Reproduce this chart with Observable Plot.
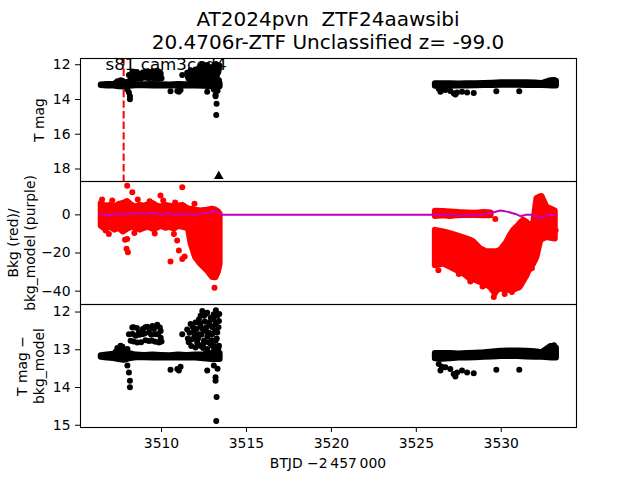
<!DOCTYPE html>
<html><head><meta charset="utf-8">
<script src="https://cdn.jsdelivr.net/npm/d3@7"></script>
<script src="https://cdn.jsdelivr.net/npm/@observablehq/plot@0.6"></script>
<style>
body{margin:0;background:#fff}
#fig{position:relative;width:640px;height:480px;overflow:hidden;background:#fff;font-family:"DejaVu Sans",sans-serif;color:#000}
.tt{position:absolute;left:0;width:656px;text-align:center;white-space:pre;font-size:20px;line-height:23px}
.yl{position:absolute;white-space:pre;text-align:center;font-size:13.9px;line-height:1.2;transform:translate(-50%,-50%) rotate(-90deg)}
.xl{position:absolute;white-space:pre;font-size:13.9px;transform:translate(-50%,-50%)}
</style></head><body><div id="fig"></div>
<script>
// ---------- text ----------
const titleLines = ["AT2024pvn  ZTF24aawsibi", "20.4706r-ZTF Unclassified z= -99.0"];
const sectorLabel = ["s81 cam3ccd4"];
const sectorLabelT = [3506.7];
const yLabel1 = "T mag";
const yLabel2 = "Bkg (red)/\nbkg_model (purple)";
const yLabel3 = "T mag \u2212\nbkg_model";
const xLabel = "BTJD \u22122\u2009457\u2009000";

// ---------- ticks ----------
const xTicks = [3510, 3515, 3520, 3525, 3530];
const y1Ticks = [12, 14, 16, 18];
const y2Ticks = [0, -20, -40];
const y3Ticks = [12, 13, 14, 15];

// ---------- T mag: dense bands (envelopes of the dot cloud) ----------
const band1T  = [3506.45, 3506.8, 3507.2, 3507.5, 3507.8, 3508.1, 3508.5, 3509.0, 3509.5, 3510.0, 3510.5, 3511.0, 3511.5, 3512.0, 3512.5, 3513.0, 3513.45];
const band1Lo = [13.16, 13.14, 13.12, 13.08, 13.05, 13.1, 13.14, 13.15, 13.14, 13.15, 13.16, 13.14, 13.15, 13.14, 13.13, 13.1, 13.1];
const band1Hi = [13.2, 13.22, 13.23, 13.26, 13.28, 13.24, 13.21, 13.21, 13.22, 13.21, 13.22, 13.21, 13.22, 13.22, 13.24, 13.26, 13.26];
const band2T  = [3526.12, 3526.5, 3527.0, 3527.5, 3528.0, 3528.5, 3529.0, 3529.5, 3530.0, 3530.5, 3531.0, 3531.5, 3532.0, 3532.4, 3532.8, 3533.0, 3533.25];
const band2Lo = [13.1, 13.1, 13.1, 13.11, 13.1, 13.09, 13.08, 13.06, 13.04, 13.03, 13.03, 13.04, 13.05, 13.08, 12.95, 12.92, 12.95];
const band2Hi = [13.24, 13.25, 13.24, 13.22, 13.22, 13.21, 13.2, 13.19, 13.18, 13.18, 13.18, 13.19, 13.2, 13.2, 13.21, 13.22, 13.22];

// ---------- T mag: individual points ----------
const ptT = [
  3508.28, 3508.67, 3509.16, 3509.46, 3509.75, 3508.08, 3508.48, 3508.87, 3509.26, 3509.65, 3509.95, 3508.18, 3508.57, 3509.06, 3509.46, 3509.85, 3507.59, 3507.99, 3509.95, 3508.9, 3509.55,
  3508.35, 3508.55, 3509.05, 3509.3, 3509.6, 3509.9, 3508.3, 3508.7, 3509.0, 3509.4, 3509.8, 3508.35, 3508.8, 3509.25, 3509.65, 3510.0, 3507.4, 3507.7, 3507.5, 3507.3,
  3512.40, 3512.69, 3513.08, 3513.28, 3512.5, 3511.71, 3512.0, 3512.3, 3512.79, 3513.18, 3513.38, 3511.51, 3511.9, 3512.2, 3512.59, 3512.98, 3513.28, 3511.22, 3511.81, 3512.1, 3512.5, 3512.89, 3513.18, 3513.38, 3512.0, 3512.69, 3513.08, 3513.3, 3512.2, 3512.9, 3513.0, 3512.4, 3512.7, 3513.1, 3512.3, 3511.6,
  3511.55, 3511.65, 3511.75, 3511.85, 3511.95, 3512.05, 3512.15, 3512.25, 3512.35, 3512.45, 3512.55, 3512.65, 3512.75, 3512.85, 3512.95, 3513.05, 3513.15, 3513.25, 3513.35, 3513.4, 3512.6, 3512.3, 3513.2, 3512.8, 3512.45, 3513.35, 3513.0,
  3507.99, 3508.08, 3508.14, 3508.14, 3510.53, 3510.93, 3511.12, 3511.02, 3512.69, 3513.08, 3513.18, 3513.18, 3513.24, 3513.22, 3513.3,
  3526.32, 3526.42, 3526.71, 3527.0, 3527.2, 3527.4, 3527.69, 3527.99, 3528.38, 3527.3, 3526.5, 3529.71, 3531.06, 3532.9, 3533.1
];
const ptM = [
  12.41, 12.54, 12.39, 12.37, 12.34, 12.59, 12.63, 12.59, 12.54, 12.59, 12.68, 12.76, 12.81, 12.75, 12.76, 12.81, 12.89, 12.98, 12.5, 12.45, 12.45,
  12.40, 12.42, 12.40, 12.43, 12.39, 12.41, 12.58, 12.6, 12.57, 12.6, 12.58, 12.78, 12.8, 12.77, 12.79, 12.78, 12.95, 12.92, 13.0, 13.05,
  11.97, 12.02, 12.06, 12.1, 12.1, 12.32, 12.28, 12.37, 12.28, 12.32, 12.24, 12.46, 12.54, 12.59, 12.5, 12.59, 12.54, 12.59, 12.72, 12.81, 12.76, 12.85, 12.76, 12.89, 12.94, 12.98, 13.03, 13.0, 12.2, 12.15, 12.4, 12.45, 12.65, 12.9, 12.9, 12.8,
  12.7, 12.55, 12.9, 12.4, 12.65, 12.45, 12.7, 12.3, 12.6, 12.85, 12.25, 12.4, 12.8, 12.35, 12.75, 12.2, 12.5, 12.7, 12.4, 12.05, 12.05, 12.1, 11.95, 12.55, 12.95, 12.95, 12.9,
  13.42, 13.6, 13.82, 13.99, 13.53, 13.51, 13.45, 13.55, 13.55, 13.42, 13.73, 13.82, 14.25, 14.89, 13.5,
  13.38, 13.55, 13.46, 13.51, 13.64, 13.6, 13.55, 13.6, 13.62, 13.71, 13.45, 13.53, 13.53, 12.9, 12.88
];
const limitT = [3513.37];
const limitM = [18.42];
const refT = [3507.77];

// ---------- Background (red): envelopes and points ----------
const redAT  = [3506.45, 3506.7, 3507.0, 3507.25, 3507.5, 3507.75, 3508.0, 3508.25, 3508.5, 3508.75, 3509.0, 3509.25, 3509.5, 3509.75, 3510.0, 3510.25, 3510.5, 3510.75, 3511.0, 3511.25, 3511.5, 3511.6, 3511.75, 3512.0, 3512.3, 3512.7, 3513.0, 3513.2, 3513.35, 3513.45];
const redAHi = [6, 4.5, 5, 4, 5.5, 6, 7, 5, 4, 5, 4.5, 5.5, 6, 4.5, 4, 5, 4.5, 4, 4.5, 5, 3.5, 3, 3, 2.5, 2, 2.5, 3, 2.5, 1.5, 0.5];
const redALo = [-6, -7.5, -6.5, -8, -7, -9, -7.5, -6.5, -7, -8, -7, -6.5, -7.5, -7, -6, -7, -6.5, -7.5, -6, -6.5, -7, -8, -15.5, -22.3, -25.8, -29.3, -32.8, -33, -30, -25.8];
const redBT  = [3526.12, 3526.61, 3527.01, 3527.79, 3528.18, 3528.38, 3528.77, 3529.16, 3529.36, 3529.65, 3529.75, 3529.95, 3530.05, 3530.34, 3530.54, 3530.73, 3531.03, 3531.12, 3531.32, 3531.52, 3531.61, 3531.91, 3532.1, 3532.3, 3532.4, 3532.69, 3533.18];
const redBHi = [-8.1, -9, -9.8, -12.1, -13.2, -14.2, -17.7, -19.4, -19.4, -19.4, -19.4, -18.5, -17.7, -14.2, -10.7, -8.1, -5.5, -4.5, -2.8, -4, -5.5, -4.6, 8.5, 9.5, 9.6, 4, 2];
const redBLo = [-26.7, -25.8, -27.5, -31, -33.7, -34, -35.4, -37, -38, -41.5, -40, -38.9, -39, -39.5, -39.7, -39.5, -38.5, -38, -35, -31.9, -30, -25.8, -22.3, -14.5, -13, -11.9, -12.7];
const redCT  = [3526.12, 3526.6, 3527.0, 3527.5, 3528.0, 3528.5, 3529.0, 3529.4];
const redCHi = [1.9, 1.8, 1.5, 1.2, 1.0, 0.8, 1.2, 1.0];
const redCLo = [-0.9, -0.5, -0.8, -0.4, -0.2, -0.3, -0.5, -0.4];
const redPtT = [3507.98, 3508.28, 3509.94, 3511.22, 3511.94, 3507.98, 3507.94, 3508.02, 3510.73, 3510.92, 3511.02, 3510.53, 3511.22, 3511.36, 3513.12, 3506.71, 3507.85, 3529.65, 3528.18, 3529.56, 3530.63,
  3506.5, 3507.1, 3508.6, 3509.3, 3510.1, 3510.8, 3506.9, 3508.4, 3509.6, 3526.15, 3526.3, 3527.5, 3528.9, 3530.2, 3531.8, 3533.2];
const redPtV = [15.3, 11.9, 10.1, 14.5, 5.8, -12.6, -17.8, -19.6, -10, -13.5, -18.7, -24.4, -23.1, -21.8, -38.2, -8.2, -13.1, -2.1, -34.9, -43.1, -40.5,
  8, 7.5, 8, 7.2, 7.5, 6.5, -10, -9.5, -9.8, -20, -29, -31, -37.5, -41.5, -28, -8];

// ---------- bkg_model (purple) ----------
const modelT = [3506.45, 3506.9, 3507.4, 3507.9, 3508.4, 3508.9, 3509.4, 3509.9, 3510.4, 3510.9, 3511.4, 3511.9, 3512.4, 3512.9, 3513.15, 3513.35, 3513.5, 3526.12, 3527.0, 3527.79, 3528.77, 3529.56, 3529.95, 3530.34, 3530.83, 3531.12, 3531.42, 3531.81, 3532.1, 3532.3, 3532.59, 3533.18];
const modelV = [0.5, -0.3, 0.6, 0.2, 1.0, 0.4, 1.1, 0.2, 0.8, -0.2, 0.7, 0.1, 0.9, 1.2, 2.4, 1.0, 0, 0, 0, -0.4, 0, 1.4, 2.3, 1.7, 0.5, -0.7, 0, 0, -1.2, -1.8, -0.4, 0];

// ---------- layout ----------
const fig = document.getElementById("fig");
const xDomain = [3505.23, 3534.43];
const fmt = d => (d < 0 ? "\u2212" + Math.abs(d) : String(d));
const RED = "#ff0000", PURPLE = "#bf00bf";

function band(T, Lo, Hi, color) {
  return Plot.areaY(T, {x: T, y1: Lo, y2: Hi, fill: color, stroke: color, strokeWidth: 6, strokeLinejoin: "round", curve: "linear"});
}
function panel(top, height, mt, mb, yOpts, marks, showX) {
  const svg = Plot.plot({
    width: 640, height, marginLeft: 80, marginRight: 64, marginTop: mt, marginBottom: mb,
    style: {background: "transparent", overflow: "visible", fontFamily: "DejaVu Sans", fontSize: "13.9px", color: "black"},
    x: showX ? {domain: xDomain, ticks: xTicks, tickSize: 5, tickPadding: 6, tickFormat: d => String(d), label: null}
             : {domain: xDomain, axis: null},
    y: Object.assign({tickSize: 5, tickPadding: 5, tickFormat: fmt, label: null}, yOpts),
    marks: [...marks, Plot.frame({stroke: "black", strokeWidth: 1.1})]
  });
  svg.style.position = "absolute";
  svg.style.left = "0px";
  svg.style.top = top + "px";
  fig.appendChild(svg);
}

// Panel 1: T mag
panel(48, 143, 10, 10, {domain: [18.72, 11.64], ticks: y1Ticks}, [
  Plot.ruleX(refT, {x: d => d, stroke: RED, strokeWidth: 2, strokeDasharray: "7.4,3.2"}),
  band(band1T, band1Lo, band1Hi, "black"),
  band(band2T, band2Lo, band2Hi, "black"),
  Plot.dot(ptT, {x: ptT, y: ptM, r: 3, fill: "black"}),
  Plot.dot(limitT, {x: limitT, y: limitM, r: 3.6, symbol: "triangle", fill: "black"}),
  Plot.text(sectorLabel, {x: sectorLabelT, text: d => d, frameAnchor: "top", lineAnchor: "top", textAnchor: "start", fontSize: 16.7, fill: "black"})
]);

// Panel 2: background
panel(171, 143, 10, 10, {domain: [-47, 17.5], ticks: y2Ticks}, [
  band(redAT, redALo, redAHi, RED),
  band(redBT, redBLo, redBHi, RED),
  band(redCT, redCLo, redCHi, RED),
  Plot.dot(redPtT, {x: redPtT, y: redPtV, r: 3, fill: RED}),
  Plot.line(modelT, {x: modelT, y: modelV, stroke: PURPLE, strokeWidth: 2})
]);

// Panel 3: T mag - bkg_model
panel(294, 183, 10, 50, {domain: [15.06, 11.8], ticks: y3Ticks}, [
  band(band1T, band1Lo, band1Hi, "black"),
  band(band2T, band2Lo, band2Hi, "black"),
  Plot.dot(ptT, {x: ptT, y: ptM, r: 3, fill: "black"})
], true);

// titles and labels
function addDiv(cls, text, css) {
  const d = document.createElement("div");
  d.className = cls; d.textContent = text;
  Object.assign(d.style, css);
  fig.appendChild(d);
}
addDiv("tt", titleLines.join("\n"), {top: "8px"});
addDiv("yl", yLabel1, {left: "39px", top: "119.5px"});
addDiv("yl", yLabel2, {left: "21.5px", top: "242.5px"});
addDiv("yl", yLabel3, {left: "30.8px", top: "365.5px"});
addDiv("xl", xLabel, {left: "328px", top: "463px"});
</script>
</body></html>
